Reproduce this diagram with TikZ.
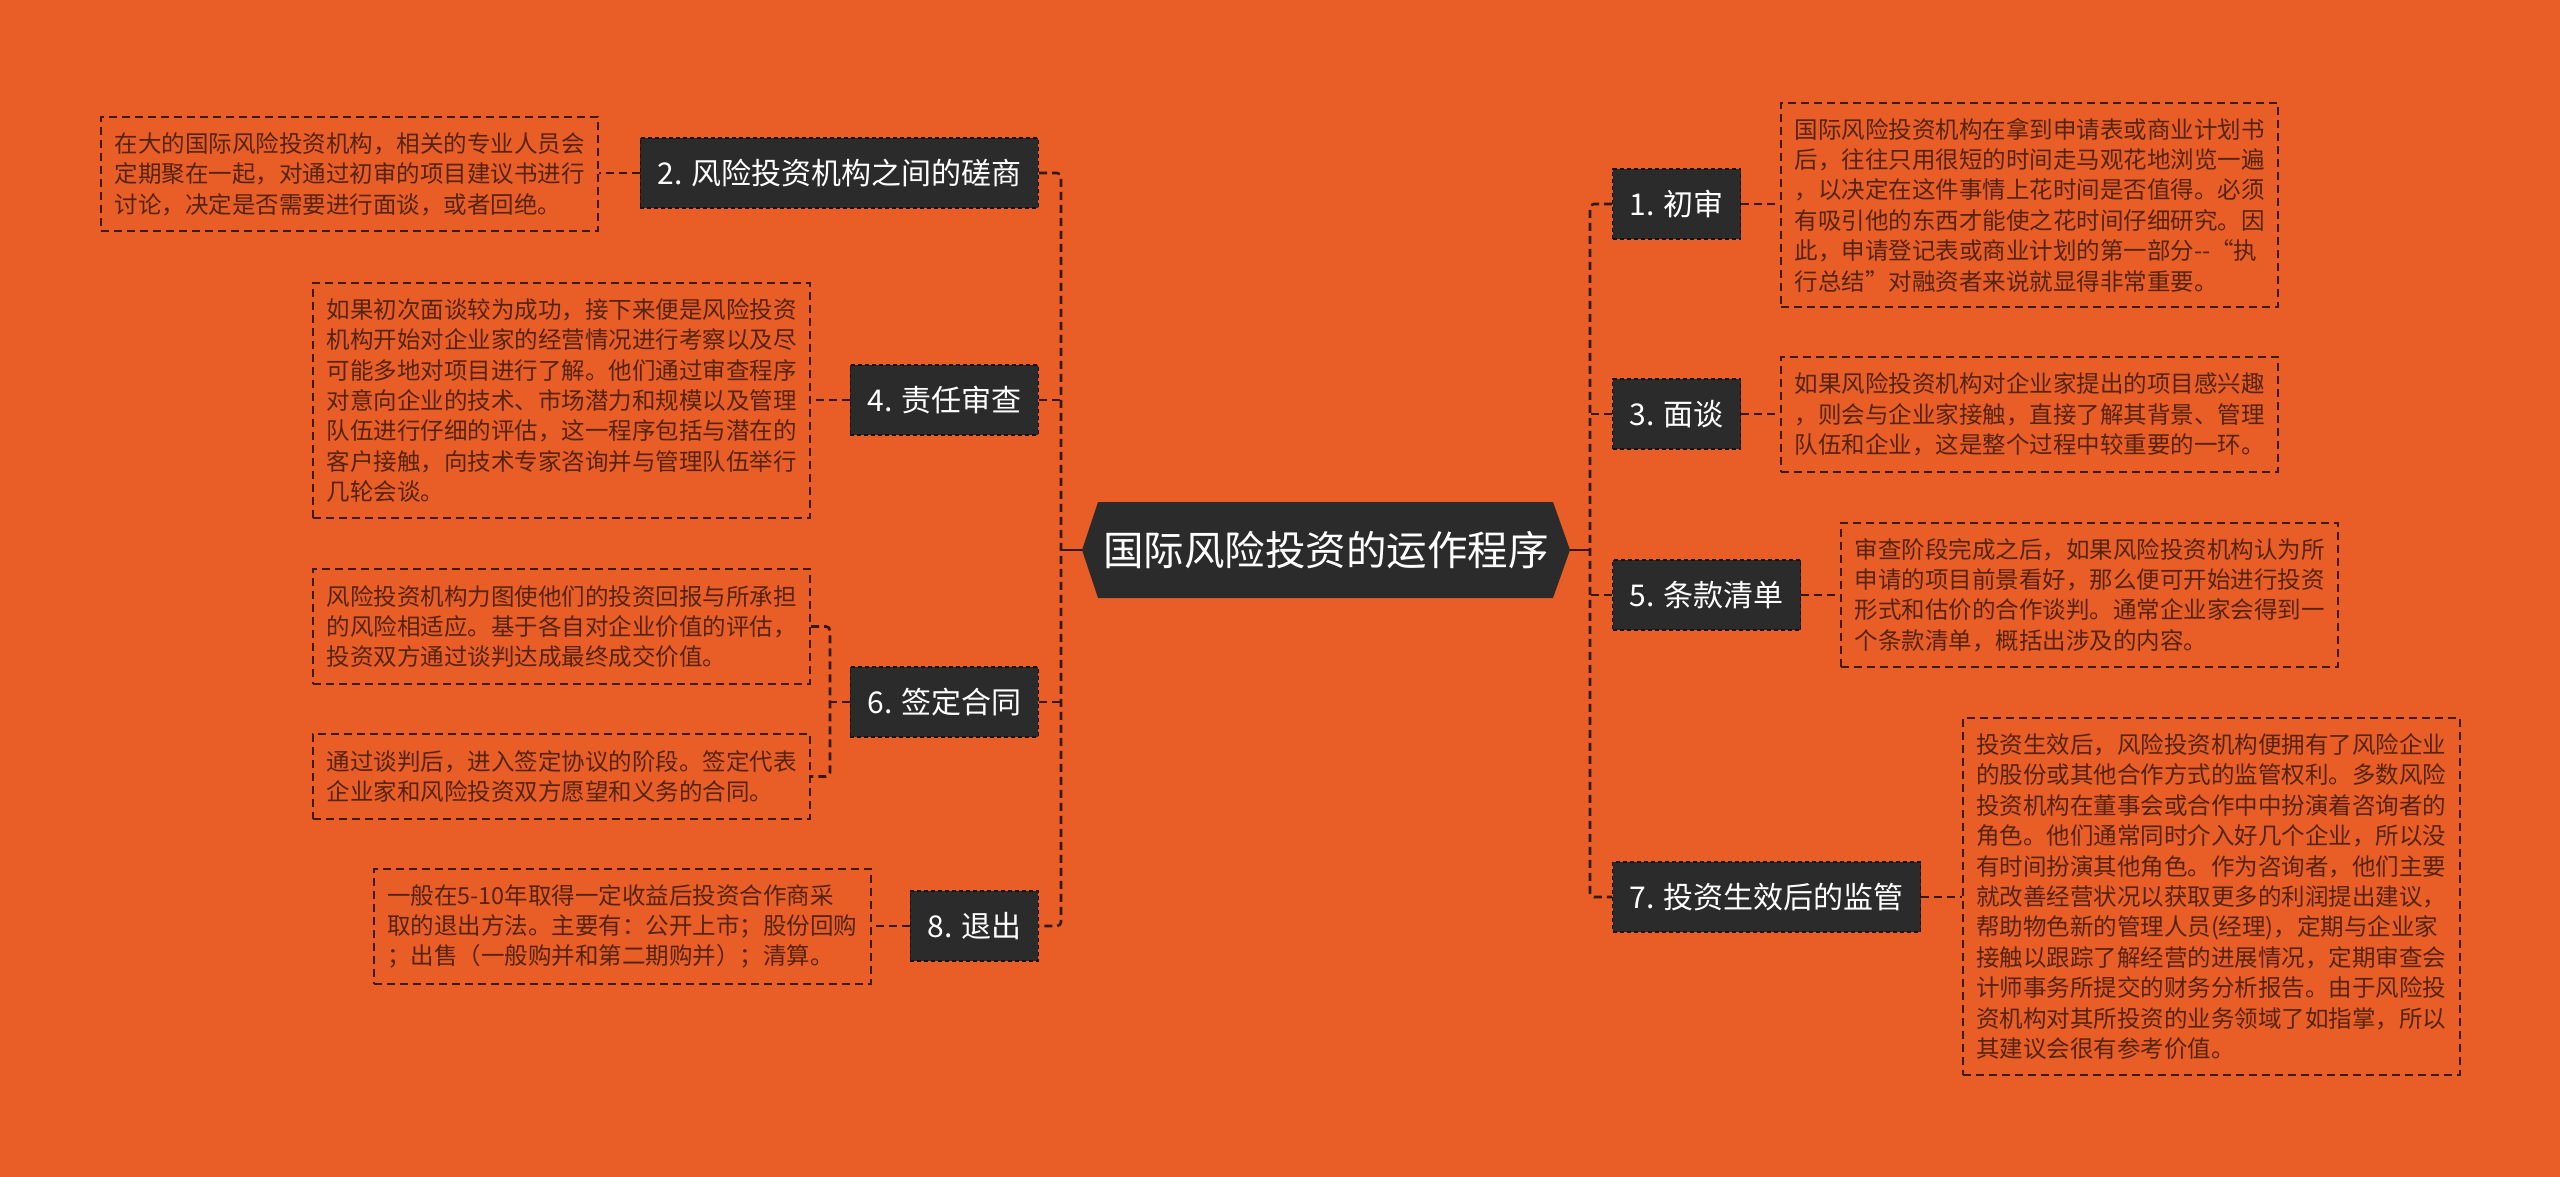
\documentclass[tikz,border=0pt]{standalone}
\usepackage{fontspec}
\setmainfont{Noto Sans CJK SC}
\usetikzlibrary{calc}
\definecolor{bgc}{RGB}{233,94,39}
\definecolor{boxc}{RGB}{43,43,43}
\definecolor{boxline}{RGB}{20,20,20}
\definecolor{connc}{RGB}{52,26,14}
\definecolor{txtc}{RGB}{84,36,16}
\definecolor{bordc}{RGB}{60,28,14}
\tikzset{
  label box/.style={fill=boxc, draw=boxline, line width=1.2pt, dash pattern=on 4pt off 3pt,
    text=white, font=\fontsize{30}{36}\selectfont, minimum height=70pt, inner xsep=17pt, inner ysep=0pt},
  note box/.style={draw=bordc, line width=2pt, dash pattern=on 8pt off 5pt, text=txtc,
    font=\fontsize{23.5}{30.4}\selectfont, align=left, text width=470pt, inner xsep=13.5pt, inner ysep=0pt},
  conn/.style={draw=connc, line width=2.6pt, dash pattern=on 8pt off 5pt},
  trunk/.style={conn, rounded corners=4pt},
  solidconn/.style={draw=connc, line width=2.6pt}
}
\begin{document}
\begin{tikzpicture}[x=1pt,y=-1pt]
\fill[bgc] (0,0) rectangle (2560,1177);
\useasboundingbox (0,0) rectangle (2560,1177);

% root
\coordinate (rc) at (1326,550);
\fill[boxc] (rc) ++(-244,0) -- ++(16,-48) -- ++(455,0) -- ++(17,48) -- ++(-17,48) -- ++(-455,0) -- cycle;
\node[text=white, font=\fontsize{40.5}{48}\selectfont, minimum width=488pt, minimum height=96pt, inner sep=0pt] (root) at (rc) {国际风险投资的运作程序};

% trunk anchors
\coordinate (L) at (1061,550);
\coordinate (R) at (1590,550);
\coordinate (K) at (830,702);

% left labels
\node[label box, anchor=east] (b2) at (1039,173) {2. 风险投资机构之间的磋商};
\node[label box, anchor=east] (b4) at (1039,400) {4. 责任审查};
\node[label box, anchor=east] (b6) at (1039,702) {6. 签定合同};
\node[label box, anchor=east] (b8) at (1039,926) {8. 退出};

% right labels
\node[label box, anchor=west] (b1) at (1612,204) {1. 初审};
\node[label box, anchor=west] (b3) at (1612,414) {3. 面谈};
\node[label box, anchor=west] (b5) at (1612,595) {5. 条款清单};
\node[label box, anchor=west] (b7) at (1612,897) {7. 投资生效后的监管};

% notes left
\node[note box, minimum height=114pt] (t2) at (349.5,174) {在大的国际风险投资机构，相关的专业人员会\\定期聚在一起，对通过初审的项目建议书进行\\讨论，决定是否需要进行面谈，或者回绝。};
\node[note box, minimum height=235pt] (t4) at (561.5,400.5) {如果初次面谈较为成功，接下来便是风险投资\\机构开始对企业家的经营情况进行考察以及尽\\可能多地对项目进行了解。他们通过审查程序\\对意向企业的技术、市场潜力和规模以及管理\\队伍进行仔细的评估，这一程序包括与潜在的\\客户接触，向技术专家咨询并与管理队伍举行\\几轮会谈。};
\node[note box, minimum height=115pt] (t6a) at (561.5,626.5) {风险投资机构力图使他们的投资回报与所承担\\的风险相适应。基于各自对企业价值的评估，\\投资双方通过谈判达成最终成交价值。};
\node[note box, minimum height=85pt] (t6b) at (561.5,776.5) {通过谈判后，进入签定协议的阶段。签定代表\\企业家和风险投资双方愿望和义务的合同。};
\node[note box, minimum height=115pt] (t8) at (622,926.5) {一般在5-10年取得一定收益后投资合作商采\\取的退出方法。主要有：公开上市；股份回购\\；出售（一般购并和第二期购并）；清算。};

% notes right
\node[note box, minimum height=204pt] (t1) at (2029.5,205) {国际风险投资机构在拿到申请表或商业计划书\\后，往往只用很短的时间走马观花地浏览一遍\\，以决定在这件事情上花时间是否值得。必须\\有吸引他的东西才能使之花时间仔细研究。因\\此，申请登记表或商业计划的第一部分-{}-“执\\行总结”对融资者来说就显得非常重要。};
\node[note box, minimum height=115pt] (t3) at (2029.5,414.5) {如果风险投资机构对企业家提出的项目感兴趣\\，则会与企业家接触，直接了解其背景、管理\\队伍和企业，这是整个过程中较重要的一环。};
\node[note box, minimum height=144pt] (t5) at (2089.5,595) {审查阶段完成之后，如果风险投资机构认为所\\申请的项目前景看好，那么便可开始进行投资\\形式和估价的合作谈判。通常企业家会得到一\\个条款清单，概括出涉及的内容。};
\node[note box, minimum height=357pt] (t7) at (2211,896.5) {投资生效后，风险投资机构便拥有了风险企业\\的股份或其他合作方式的监管权利。多数风险\\投资机构在董事会或合作中中扮演着咨询者的\\角色。他们通常同时介入好几个企业，所以没\\有时间扮演其他角色。作为咨询者，他们主要\\就改善经营状况以获取更多的利润提出建议，\\帮助物色新的管理人员(经理)，定期与企业家\\接触以跟踪了解经营的进展情况，定期审查会\\计师事务所提交的财务分析报告。由于风险投\\资机构对其所投资的业务领域了如指掌，所以\\其建议会很有参考价值。};

% root to trunks
\draw[solidconn] (root.west) -- (L);
\draw[solidconn] (root.east) -- (R);

% left trunk
\draw[trunk] (b2.east) -- (b2.east -| L) -- (b8.east -| L) -- (b8.east);
\draw[conn] (b4.east) -- (b4.east -| L);
\draw[conn] (b6.east) -- (b6.east -| L);

% right trunk
\draw[trunk] (b1.west) -- (b1.west -| R) -- (b7.west -| R) -- (b7.west);
\draw[conn] (b3.west) -- (b3.west -| R);
\draw[conn] (b5.west) -- (b5.west -| R);

% label to notes
\draw[conn] (b2.west) -- (b2.west -| t2.east);
\draw[conn] (b4.west) -- (b4.west -| t4.east);
\draw[conn] (b8.west) -- (b8.west -| t8.east);
\draw[conn] (b6.west) -- (K);
\draw[trunk] (t6a.east) -- (t6a.east -| K) -- (t6b.east -| K) -- (t6b.east);
\draw[conn] (b1.east) -- (b1.east -| t1.west);
\draw[conn] (b3.east) -- (b3.east -| t3.west);
\draw[conn] (b5.east) -- (b5.east -| t5.west);
\draw[conn] (b7.east) -- (b7.east -| t7.west);
\end{tikzpicture}
\end{document}
